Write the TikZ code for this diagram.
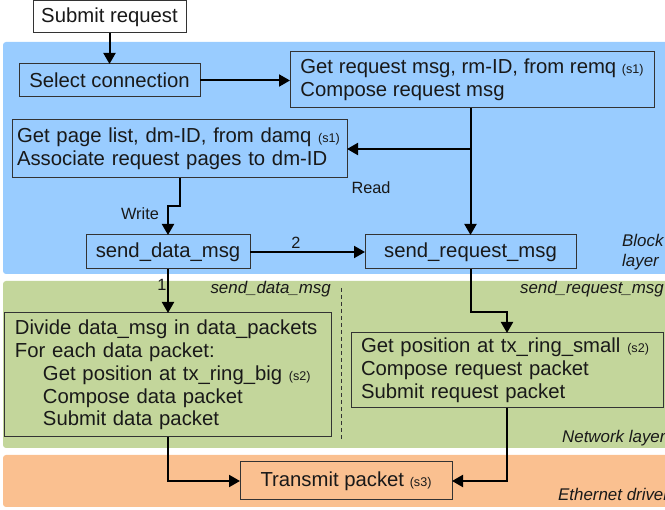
\documentclass[tikz,border=0pt]{standalone}
\usepackage{fontspec}
\setmainfont{Liberation Sans}
\usetikzlibrary{arrows.meta}

\definecolor{blocklayer}{HTML}{99CCFF}
\definecolor{netlayer}{HTML}{C3D69B}
\definecolor{ethlayer}{HTML}{FAC090}
\definecolor{edgegray}{HTML}{333333}

% font sizes used in the drawing
\newcommand\mainsz{\fontsize{20.3}{22.8}\selectfont}
\newcommand\labsz{\fontsize{16.3}{19.5}\selectfont}
\newcommand\layersz{\fontsize{16.9}{19.5}\selectfont}
\newcommand\stepsz[1]{{\fontsize{12.6}{14}\selectfont #1}}

\begin{document}
\begin{tikzpicture}[x=1pt, y=-1pt,
  layer/.style={rounded corners=3pt, draw=none},
  box/.style={draw=edgegray, line width=1pt, outer sep=0pt, inner sep=0pt,
              anchor=north west, font=\mainsz, text=black!90},
  txtbox/.style={box, align=left},
  arr/.style={line width=2pt, -{Triangle[length=11pt,width=12pt]}},
  lab/.style={font=\labsz, text=black!90, inner sep=0pt},
  layerlab/.style={font=\layersz\itshape, text=black!90, inner sep=0pt}]
\useasboundingbox (0,0) rectangle (665,510);

% layer backgrounds
\fill[layer, blocklayer] (3,42) rectangle (672,274);
\fill[layer, netlayer]   (3,281) rectangle (672,448);
\fill[layer, ethlayer]   (3,455) rectangle (672,507);

% separation between send_data_msg and send_request_msg paths
\draw[edgegray, line width=1pt, dash pattern=on 4pt off 3pt] (341,288) -- (341,440);

% layer labels
\node[layerlab, anchor=east] (lsd) at (331,289) {send\_data\_msg};
\node[layerlab, anchor=east] (lsr) at (664,289) {send\_request\_msg};
\node[layerlab, anchor=west, align=left] (lblock) at (622,252) {Block\\layer};
\node[layerlab, anchor=west] (lnet) at (562,438) {Network layer};
\node[layerlab, anchor=west] (leth) at (558,494) {Ethernet driver};

% boxes
\node[box, fill=white, minimum width=153pt, minimum height=32pt]
  (submit) at (33,1) {\raisebox{-1pt}{Submit request}};
\node[box, fill=blocklayer, minimum width=181pt, minimum height=33pt]
  (select) at (19,64) {\raisebox{-1pt}{Select connection}};
\node[txtbox, fill=blocklayer, minimum width=364pt, minimum height=56pt]
  (getreq) at (290,52) {Get request msg, rm-ID, from remq \stepsz{(s1)}\\Compose request msg};
\node[txtbox, fill=blocklayer, minimum width=335pt, minimum height=58pt, text width=325pt]
  (pagelist) at (12,120) {Get page list, dm-ID, from damq \stepsz{(s1)}\\Associate request pages to dm-ID};
\node[box, fill=blocklayer, minimum width=164pt, minimum height=34pt]
  (senddata) at (86,235) {\raisebox{-1pt}{send\_data\_msg}};
\node[box, fill=blocklayer, minimum width=211pt, minimum height=34pt]
  (sendreq) at (365,235) {\raisebox{-1pt}{send\_request\_msg}};
\node[txtbox, fill=netlayer, minimum width=327pt, minimum height=124pt, text width=305pt]
  (divide) at (4,313) {Divide data\_msg in data\_packets\\
    For each data packet:\\
    \hspace*{28pt}Get position at tx\_ring\_big \stepsz{(s2)}\\
    \hspace*{28pt}Compose data packet\\
    \hspace*{28pt}Submit data packet};
\node[txtbox, fill=netlayer, minimum width=312pt, minimum height=75pt, text width=292pt]
  (getpos) at (351,333) {Get position at tx\_ring\_small \stepsz{(s2)}\\
    Compose request packet\\
    Submit request packet};
\node[box, fill=ethlayer, minimum width=212pt, minimum height=38pt]
  (transmit) at (240,462) {Transmit packet \stepsz{(s3)}};

% connectors
\draw[arr] (submit.south) -- (select.north);
\draw[arr] (select.east) -- (select.east -| getreq.west);
\draw[arr] (sendreq.north |- getreq.south) -- (sendreq.north);
\draw[arr] (sendreq.north |- pagelist.east) -- (pagelist.east);
\draw[arr] (pagelist.south) -- ++(0,28) -| (senddata.north);
\draw[arr] (senddata.east) -- (senddata.east -| sendreq.west);
\draw[arr] (senddata.south) -- (senddata.south |- divide.north);
\draw[arr] (sendreq.south) -- ++(0,43) -| (getpos.north);
\draw[arr] (senddata.south |- divide.south) |- (transmit.west);
\draw[arr] (getpos.south) |- (transmit.east);

% connector labels
\node[lab] (read) at (371,188) {Read};
\node[lab] (write) at (140,214) {Write};
\node[lab] (two) at (296,243) {2};
\node[lab] (one) at (162,285) {1};
\end{tikzpicture}
\end{document}
